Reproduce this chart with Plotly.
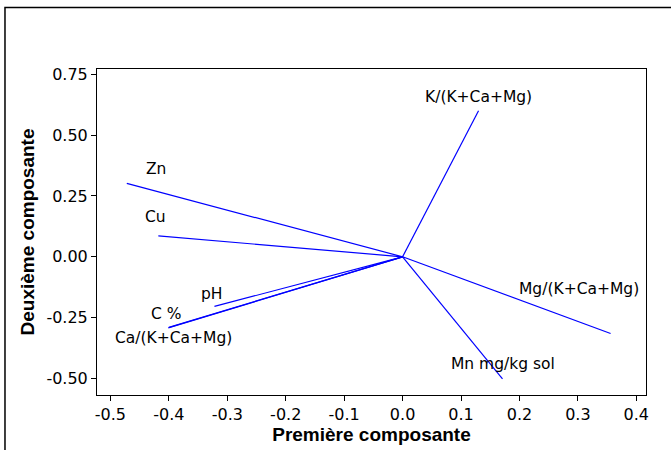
import plotly.graph_objects as go

variables = ["K/(K+Ca+Mg)", "Zn", "Cu", "pH", "C %", "Ca/(K+Ca+Mg)", "Mg/(K+Ca+Mg)", "Mn mg/kg sol"]
comp1 = [0.130, -0.472, -0.418, -0.322, -0.400, -0.401, 0.356, 0.171]
comp2 = [0.600, 0.302, 0.086, -0.204, -0.290, -0.292, -0.315, -0.502]

x_ticks = [-0.5, -0.4, -0.3, -0.2, -0.1, 0.0, 0.1, 0.2, 0.3, 0.4]
y_ticks = [-0.50, -0.25, 0.00, 0.25, 0.50, 0.75]

# label offsets in pixels (style)
label_shift = {
    "K/(K+Ca+Mg)": (0, 14),
    "Zn": (29, 14),
    "Cu": (-3, 19),
    "pH": (-2, 12),
    "C %": (-3, 13),
    "Ca/(K+Ca+Mg)": (5, -10),
    "Mg/(K+Ca+Mg)": (-32, 44),
    "Mn mg/kg sol": (0, 15),
}

fig = go.Figure()
for name, x, y in zip(variables, comp1, comp2):
    fig.add_trace(go.Scatter(x=[0, x], y=[0, y], mode="lines",
                             line=dict(color="#0000FF", width=1.2),
                             showlegend=False, hoverinfo="skip"))

label_font = dict(family="DejaVu Sans, Verdana, sans-serif", size=15.5, color="black")
for name, x, y in zip(variables, comp1, comp2):
    dx, dy = label_shift[name]
    fig.add_annotation(x=x, y=y, text=name, showarrow=False, xshift=dx, yshift=dy,
                       font=label_font, xanchor="center", yanchor="middle")

tick_font = dict(family="DejaVu Sans, sans-serif", size=16, color="black")
title_font = dict(family="Liberation Sans, Arial, sans-serif", size=19, color="black")

fig.update_layout(
    width=671, height=450,
    margin=dict(l=97, r=25, t=69, b=53),
    paper_bgcolor="white", plot_bgcolor="white",
    xaxis=dict(range=[-0.523, 0.4166], tickvals=x_ticks,
               ticktext=[f"{v:.1f}" for v in x_ticks],
               showgrid=False, zeroline=False, showline=True, linecolor="black",
               linewidth=1, mirror=True, ticks="outside", ticklen=5, tickcolor="black",
               tickfont=tick_font,
               title=dict(text="<b>Première composante</b>", font=title_font, standoff=0)),
    yaxis=dict(range=[-0.568, 0.772], tickvals=y_ticks,
               ticktext=[f"{v:.2f}" for v in y_ticks],
               showgrid=False, zeroline=False, showline=True, linecolor="black",
               linewidth=1, mirror=True, ticks="outside", ticklen=5, tickcolor="black",
               tickfont=tick_font,
               title=dict(text="<b>Deuxième composante</b>", font=title_font, standoff=6)),
)

fig.add_shape(type="rect", xref="paper", yref="paper",
              x0=-0.1676, x1=1.1, y0=-0.2, y1=1.189,
              line=dict(color="black", width=1.5), fillcolor="rgba(0,0,0,0)", layer="below")

fig.write_html("out.html", config={"displayModeBar": False},
               post_script="document.body.style.margin='0';")
